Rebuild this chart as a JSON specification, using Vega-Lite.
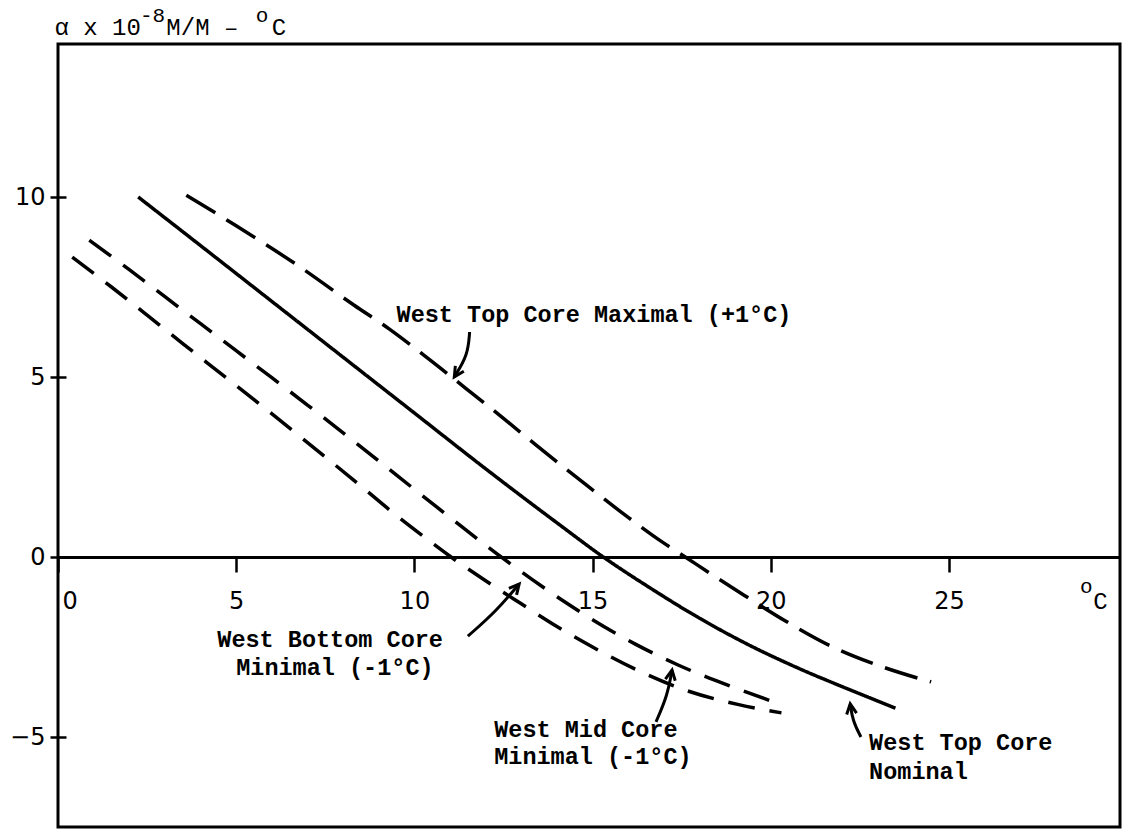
{
  "$schema": "https://vega.github.io/schema/vega-lite/v6.json",
  "width": 1062,
  "height": 783,
  "autosize": {"type": "none"},
  "padding": {"left": 58, "top": 44, "right": 11, "bottom": 8},
  "background": "white",
  "config": {"view": {"stroke": "black", "strokeWidth": 3}},
  "datasets": {
    "curves": [
      {"series": "Nominal", "x": 2.25, "y": 10.0},
      {"series": "Nominal", "x": 4.0, "y": 8.65},
      {"series": "Nominal", "x": 6.0, "y": 7.1},
      {"series": "Nominal", "x": 8.0, "y": 5.55},
      {"series": "Nominal", "x": 10.0, "y": 4.0},
      {"series": "Nominal", "x": 12.0, "y": 2.45},
      {"series": "Nominal", "x": 14.0, "y": 0.95},
      {"series": "Nominal", "x": 15.3, "y": 0.0},
      {"series": "Nominal", "x": 16.6, "y": -0.85},
      {"series": "Nominal", "x": 18.0, "y": -1.7},
      {"series": "Nominal", "x": 19.4, "y": -2.45},
      {"series": "Nominal", "x": 20.8, "y": -3.1},
      {"series": "Nominal", "x": 22.2, "y": -3.68},
      {"series": "Nominal", "x": 23.5, "y": -4.2},
      {"series": "Maximal", "x": 3.6, "y": 10.05},
      {"series": "Maximal", "x": 5.0, "y": 9.2},
      {"series": "Maximal", "x": 6.8, "y": 8.05},
      {"series": "Maximal", "x": 8.3, "y": 7.0},
      {"series": "Maximal", "x": 9.3, "y": 6.33},
      {"series": "Maximal", "x": 10.3, "y": 5.58},
      {"series": "Maximal", "x": 11.45, "y": 4.68},
      {"series": "Maximal", "x": 12.5, "y": 3.85},
      {"series": "Maximal", "x": 13.4, "y": 3.12},
      {"series": "Maximal", "x": 14.85, "y": 1.98},
      {"series": "Maximal", "x": 16.0, "y": 1.1},
      {"series": "Maximal", "x": 16.95, "y": 0.42},
      {"series": "Maximal", "x": 17.6, "y": 0.0},
      {"series": "Maximal", "x": 18.4, "y": -0.52},
      {"series": "Maximal", "x": 19.25, "y": -1.06},
      {"series": "Maximal", "x": 20.45, "y": -1.8},
      {"series": "Maximal", "x": 21.7, "y": -2.48},
      {"series": "Maximal", "x": 23.1, "y": -3.04},
      {"series": "Maximal", "x": 24.5, "y": -3.47},
      {"series": "Mid", "x": 0.88, "y": 8.8},
      {"series": "Mid", "x": 2.0, "y": 7.98},
      {"series": "Mid", "x": 3.0, "y": 7.23},
      {"series": "Mid", "x": 4.0, "y": 6.48},
      {"series": "Mid", "x": 5.0, "y": 5.73},
      {"series": "Mid", "x": 6.0, "y": 4.98},
      {"series": "Mid", "x": 7.0, "y": 4.22},
      {"series": "Mid", "x": 8.0, "y": 3.45},
      {"series": "Mid", "x": 9.0, "y": 2.67},
      {"series": "Mid", "x": 10.0, "y": 1.88},
      {"series": "Mid", "x": 11.0, "y": 1.1},
      {"series": "Mid", "x": 12.3, "y": 0.1},
      {"series": "Mid", "x": 13.3, "y": -0.62},
      {"series": "Mid", "x": 14.3, "y": -1.3},
      {"series": "Mid", "x": 15.0, "y": -1.74},
      {"series": "Mid", "x": 16.2, "y": -2.42},
      {"series": "Mid", "x": 17.4, "y": -3.0},
      {"series": "Mid", "x": 18.9, "y": -3.6},
      {"series": "Mid", "x": 20.3, "y": -4.1},
      {"series": "Bottom", "x": 0.4, "y": 8.33},
      {"series": "Bottom", "x": 1.5, "y": 7.5},
      {"series": "Bottom", "x": 2.5, "y": 6.72},
      {"series": "Bottom", "x": 3.5, "y": 5.93},
      {"series": "Bottom", "x": 4.5, "y": 5.15},
      {"series": "Bottom", "x": 5.5, "y": 4.37},
      {"series": "Bottom", "x": 6.5, "y": 3.58},
      {"series": "Bottom", "x": 7.5, "y": 2.78},
      {"series": "Bottom", "x": 8.5, "y": 1.97},
      {"series": "Bottom", "x": 9.5, "y": 1.15},
      {"series": "Bottom", "x": 10.35, "y": 0.5},
      {"series": "Bottom", "x": 11.0, "y": 0.02},
      {"series": "Bottom", "x": 12.0, "y": -0.66},
      {"series": "Bottom", "x": 13.0, "y": -1.3},
      {"series": "Bottom", "x": 14.0, "y": -1.93},
      {"series": "Bottom", "x": 15.0, "y": -2.5},
      {"series": "Bottom", "x": 16.25, "y": -3.14},
      {"series": "Bottom", "x": 17.55, "y": -3.68},
      {"series": "Bottom", "x": 19.1, "y": -4.1},
      {"series": "Bottom", "x": 20.3, "y": -4.33}
    ],
    "labels": [
      {"text": "West Top Core Maximal (+1°C)", "x": 9.5, "y": 6.72},
      {"text": "West Bottom Core", "x": 4.47, "y": -2.31},
      {"text": "Minimal (-1°C)", "x": 5.0, "y": -3.08},
      {"text": "West Mid Core", "x": 12.24, "y": -4.8},
      {"text": "Minimal (-1°C)", "x": 12.24, "y": -5.56},
      {"text": "West Top Core", "x": 22.76, "y": -5.17},
      {"text": "Nominal", "x": 22.76, "y": -5.97}
    ],
    "titleMain": [
      {"text": "α x 10", "x": -0.1, "y": 14.5},
      {"text": "M/M –", "x": 3.04, "y": 14.5},
      {"text": "C", "x": 6.0, "y": 14.5},
      {"text": "C", "x": 29.05, "y": -1.45}
    ],
    "titleSup": [
      {"text": "-8", "x": 2.3, "y": 14.86},
      {"text": "o", "x": 5.55, "y": 14.86},
      {"text": "o", "x": 28.68, "y": -1.0}
    ],
    "arrows": [
      {"arrow": "Maximal", "x": 11.55, "y": 6.25},
      {"arrow": "Maximal", "x": 11.5, "y": 5.6},
      {"arrow": "Maximal", "x": 11.12, "y": 5.0},
      {"arrow": "Nominal", "x": 22.53, "y": -5.0},
      {"arrow": "Nominal", "x": 22.3, "y": -4.55},
      {"arrow": "Nominal", "x": 22.23, "y": -4.08},
      {"arrow": "Mid", "x": 16.78, "y": -4.58},
      {"arrow": "Mid", "x": 17.1, "y": -3.85},
      {"arrow": "Mid", "x": 17.23, "y": -3.14},
      {"arrow": "Bottom", "x": 11.5, "y": -2.2},
      {"arrow": "Bottom", "x": 12.3, "y": -1.5},
      {"arrow": "Bottom", "x": 12.94, "y": -0.75}
    ],
    "heads": [
      {"arrow": "Maximal", "x": 11.12, "y": 5.0},
      {"arrow": "Nominal", "x": 22.23, "y": -4.08},
      {"arrow": "Mid", "x": 17.23, "y": -3.14},
      {"arrow": "Bottom", "x": 12.94, "y": -0.75}
    ]
  },
  "encoding": {
    "x": {"field": "x", "type": "quantitative", "scale": {"domain": [0, 29.8], "nice": false, "zero": false},
      "axis": {"orient": "bottom", "offset": -270, "values": [0, 5, 10, 15, 20, 25], "title": null, "grid": false,
        "domainColor": "black", "domainWidth": 3, "tickColor": "black", "tickWidth": 2.5, "tickSize": 15,
        "labelFont": "DejaVu Sans", "labelFontSize": 24, "labelColor": "black", "labelPadding": 29, "labelBaseline": "middle",
        "labelAlign": {"condition": {"test": "datum.value === 0", "value": "left"}, "value": "center"},
        "labelOffset": {"condition": {"test": "datum.value === 0", "value": 4}, "value": 0},
        "labelFlush": false, "labelOverlap": false}},
    "y": {"field": "y", "type": "quantitative", "scale": {"domain": [-7.5, 14.25], "nice": false, "zero": false},
      "axis": {"orient": "left", "offset": -8, "values": [-5, 0, 5, 10], "title": null, "grid": false, "domain": false,
        "tickColor": "black", "tickWidth": 2.5, "tickSize": 16,
        "labelFont": "DejaVu Sans", "labelFontSize": 24, "labelColor": "black", "labelPadding": 5, "labelOverlap": false}}
  },
  "layer": [
    {
      "data": {"name": "curves"},
      "mark": {"type": "line", "color": "black", "strokeWidth": 3.5, "interpolate": "monotone", "strokeCap": "butt"},
      "encoding": {
        "detail": {"field": "series", "type": "nominal"},
        "strokeDash": {"field": "series", "type": "nominal",
          "scale": {"domain": ["Nominal", "Maximal", "Mid", "Bottom"], "range": [[1, 0], [34, 13], [27, 15], [27, 15]]},
          "legend": null}
      }
    },
    {
      "data": {"name": "labels"},
      "mark": {"type": "text", "align": "left", "baseline": "middle", "font": "Liberation Mono", "fontSize": 23.5, "fontWeight": "bold", "color": "black"},
      "encoding": {
        "text": {"field": "text", "type": "nominal"}
      }
    },
    {
      "data": {"name": "titleMain"},
      "mark": {"type": "text", "align": "left", "baseline": "alphabetic", "font": "Liberation Mono", "fontSize": 24, "color": "black"},
      "encoding": {
        "text": {"field": "text", "type": "nominal"}
      }
    },
    {
      "data": {"name": "titleSup"},
      "mark": {"type": "text", "align": "left", "baseline": "alphabetic", "font": "Liberation Mono", "fontSize": 21, "color": "black"},
      "encoding": {
        "text": {"field": "text", "type": "nominal"}
      }
    },
    {
      "data": {"name": "arrows"},
      "mark": {"type": "line", "color": "black", "strokeWidth": 3, "interpolate": "basis"},
      "encoding": {
        "detail": {"field": "arrow", "type": "nominal"}
      }
    },
    {
      "data": {"name": "heads"},
      "transform": [{"filter": "datum.arrow === 'Maximal'"}],
      "mark": {"type": "point", "shape": "M -0.5 1 L 0 0 L 0.5 1", "filled": false, "stroke": "black", "strokeWidth": 3, "size": 400, "angle": 212, "opacity": 1},
      "encoding": {}
    },
    {
      "data": {"name": "heads"},
      "transform": [{"filter": "datum.arrow === 'Nominal'"}],
      "mark": {"type": "point", "shape": "M -0.5 1 L 0 0 L 0.5 1", "filled": false, "stroke": "black", "strokeWidth": 3, "size": 400, "angle": 352, "opacity": 1},
      "encoding": {}
    },
    {
      "data": {"name": "heads"},
      "transform": [{"filter": "datum.arrow === 'Mid'"}],
      "mark": {"type": "point", "shape": "M -0.5 1 L 0 0 L 0.5 1", "filled": false, "stroke": "black", "strokeWidth": 3, "size": 400, "angle": 10, "opacity": 1},
      "encoding": {}
    },
    {
      "data": {"name": "heads"},
      "transform": [{"filter": "datum.arrow === 'Bottom'"}],
      "mark": {"type": "point", "shape": "M -0.5 1 L 0 0 L 0.5 1", "filled": false, "stroke": "black", "strokeWidth": 3, "size": 400, "angle": 40, "opacity": 1},
      "encoding": {}
    }
  ]
}
